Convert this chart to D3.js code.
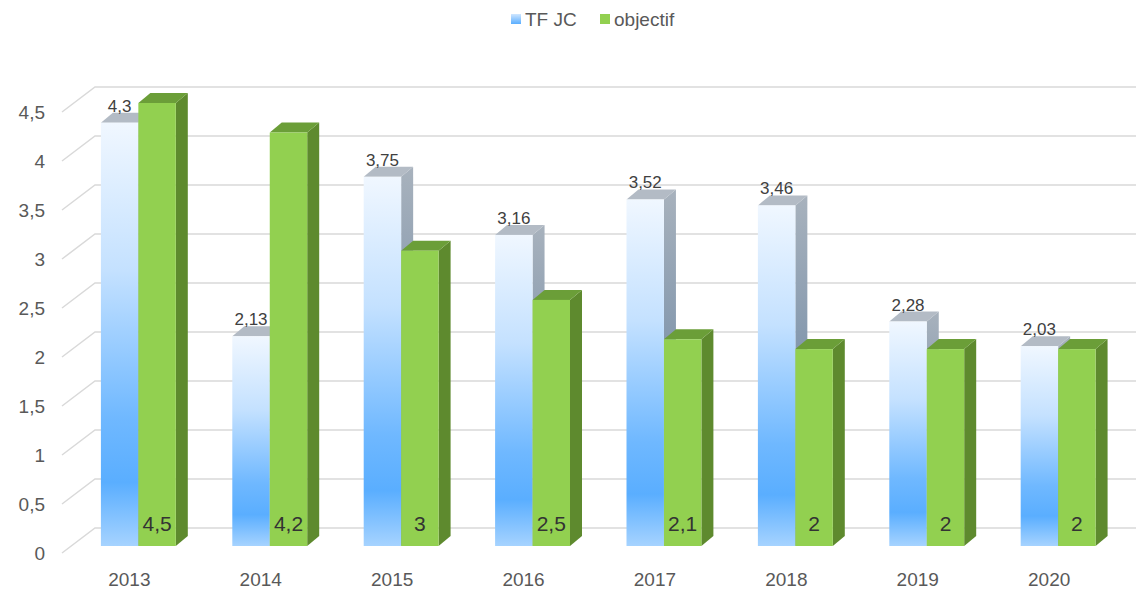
<!DOCTYPE html>
<html>
<head>
<meta charset="utf-8">
<script src="https://cdn.jsdelivr.net/npm/d3@7"></script>
<style>
  body { margin: 0; background: #fff; }
  svg { font-family: "Liberation Sans", Arial, sans-serif; }
</style>
</head>
<body>
<div id="chart"></div>
<script>
var w = 1139;
var h = 590;

// data
var years = ["2013", "2014", "2015", "2016", "2017", "2018", "2019", "2020"];
var tfjc = [4.3, 2.13, 3.75, 3.16, 3.52, 3.46, 2.28, 2.03];
var objectif = [4.5, 4.2, 3, 2.5, 2.1, 2, 2, 2];
var yTicks = [0, 0.5, 1, 1.5, 2, 2.5, 3, 3.5, 4, 4.5];
var seriesNames = ["TF JC", "objectif"];

var depthX = 12, depthY = 10; // 3d depth of a bar
var fmt = function (v) { return String(v).replace(".", ","); };

var svg = d3.select("#chart").append("svg")
    .attr("width", w)
    .attr("height", h);

var defs = svg.append("defs");
var gBlue = defs.append("linearGradient").attr("id", "blueFront")
    .attr("x1", 0).attr("y1", 0).attr("x2", 0).attr("y2", 1);
[["0%", "#f0f7ff"], ["35%", "#c4e1ff"], ["70%", "#6fb8ff"], ["85%", "#5aaeff"], ["100%", "#a6d3ff"]]
    .forEach(function (s) { gBlue.append("stop").attr("offset", s[0]).attr("stop-color", s[1]); });
var gSide = defs.append("linearGradient").attr("id", "blueSide")
    .attr("x1", 0).attr("y1", 0).attr("x2", 0).attr("y2", 1);
[["0%", "#a8b2bd"], ["100%", "#56779a"]]
    .forEach(function (s) { gSide.append("stop").attr("offset", s[0]).attr("stop-color", s[1]); });
var gLeg = defs.append("linearGradient").attr("id", "blueLegend")
    .attr("x1", 0).attr("y1", 0).attr("x2", 0).attr("y2", 1);
[["0%", "#cfe6ff"], ["100%", "#5aaeff"]]
    .forEach(function (s) { gLeg.append("stop").attr("offset", s[0]).attr("stop-color", s[1]); });

// scales
var x = d3.scaleBand().domain(years).range([72, 1124.5]).paddingInner(0.43).paddingOuter(0.22);
var y = d3.scaleLinear().domain([0, 4.5]).range([546, 103]);
var yGrid = d3.scaleLinear().domain([0, 4.5]).range([553, 112]);

// gridlines: diagonal on the floor side + back wall
var grid = svg.append("g").attr("stroke", "#d9d9d9").attr("stroke-width", 1.5).attr("fill", "none");
grid.selectAll("path").data(yTicks).enter().append("path")
    .attr("d", function (d) {
        var yf = yGrid(d), yb = yf - 25;
        return "M62," + yf + "L95," + yb + "L1136," + yb;
    });

// y labels
svg.append("g").selectAll("text").data(yTicks).enter().append("text")
    .attr("x", 45)
    .attr("y", function (d) { return yGrid(d) + 7; })
    .attr("text-anchor", "end")
    .attr("font-size", 19)
    .attr("fill", "#595959")
    .text(fmt);

// x labels
svg.append("g").selectAll("text").data(years).enter().append("text")
    .attr("x", function (d) { return x(d) + x.bandwidth() / 2 - 9; })
    .attr("y", 586)
    .attr("text-anchor", "middle")
    .attr("font-size", 19)
    .attr("fill", "#595959")
    .text(function (d) { return d; });

var bw = x.bandwidth() / 2;

function bar3d(g, x0, v, front, top, side) {
    var yt = y(v), yb = y(0);
    g.append("path")
        .attr("d", "M" + (x0 + bw) + "," + yb + "L" + (x0 + bw + depthX) + "," + (yb - depthY) +
            "L" + (x0 + bw + depthX) + "," + (yt - depthY) + "L" + (x0 + bw) + "," + yt + "Z")
        .attr("fill", side);
    g.append("path")
        .attr("d", "M" + x0 + "," + yt + "L" + (x0 + depthX) + "," + (yt - depthY) +
            "L" + (x0 + bw + depthX) + "," + (yt - depthY) + "L" + (x0 + bw) + "," + yt + "Z")
        .attr("fill", top);
    g.append("rect")
        .attr("x", x0).attr("y", yt)
        .attr("width", bw).attr("height", yb - yt)
        .attr("fill", front);
}

var bars = svg.append("g");
years.forEach(function (yr, i) {
    var g = bars.append("g");
    bar3d(g, x(yr), tfjc[i], "url(#blueFront)", "#b3bbc5", "url(#blueSide)");
    bar3d(g, x(yr) + bw, objectif[i], "#92d050", "#6b9e38", "#5e8a2e");
    g.append("text")
        .attr("x", x(yr) + bw / 2)
        .attr("y", y(tfjc[i]) - 11)
        .attr("text-anchor", "middle")
        .attr("font-size", 17)
        .attr("fill", "#404040")
        .text(fmt(tfjc[i]));
    g.append("text")
        .attr("x", x(yr) + bw * 1.5)
        .attr("y", 531)
        .attr("text-anchor", "middle")
        .attr("font-size", 21)
        .attr("fill", "#333")
        .text(fmt(objectif[i]));
});

// legend
var legend = svg.append("g");
var legX = [511, 600];
var legFill = ["url(#blueLegend)", "#92d050"];
seriesNames.forEach(function (name, i) {
    legend.append("rect")
        .attr("x", legX[i]).attr("y", 14)
        .attr("width", 10).attr("height", 10)
        .attr("fill", legFill[i]);
    legend.append("text")
        .attr("x", legX[i] + 14).attr("y", 26)
        .attr("font-size", 19)
        .attr("fill", "#595959")
        .text(name);
});
</script>
</body>
</html>
